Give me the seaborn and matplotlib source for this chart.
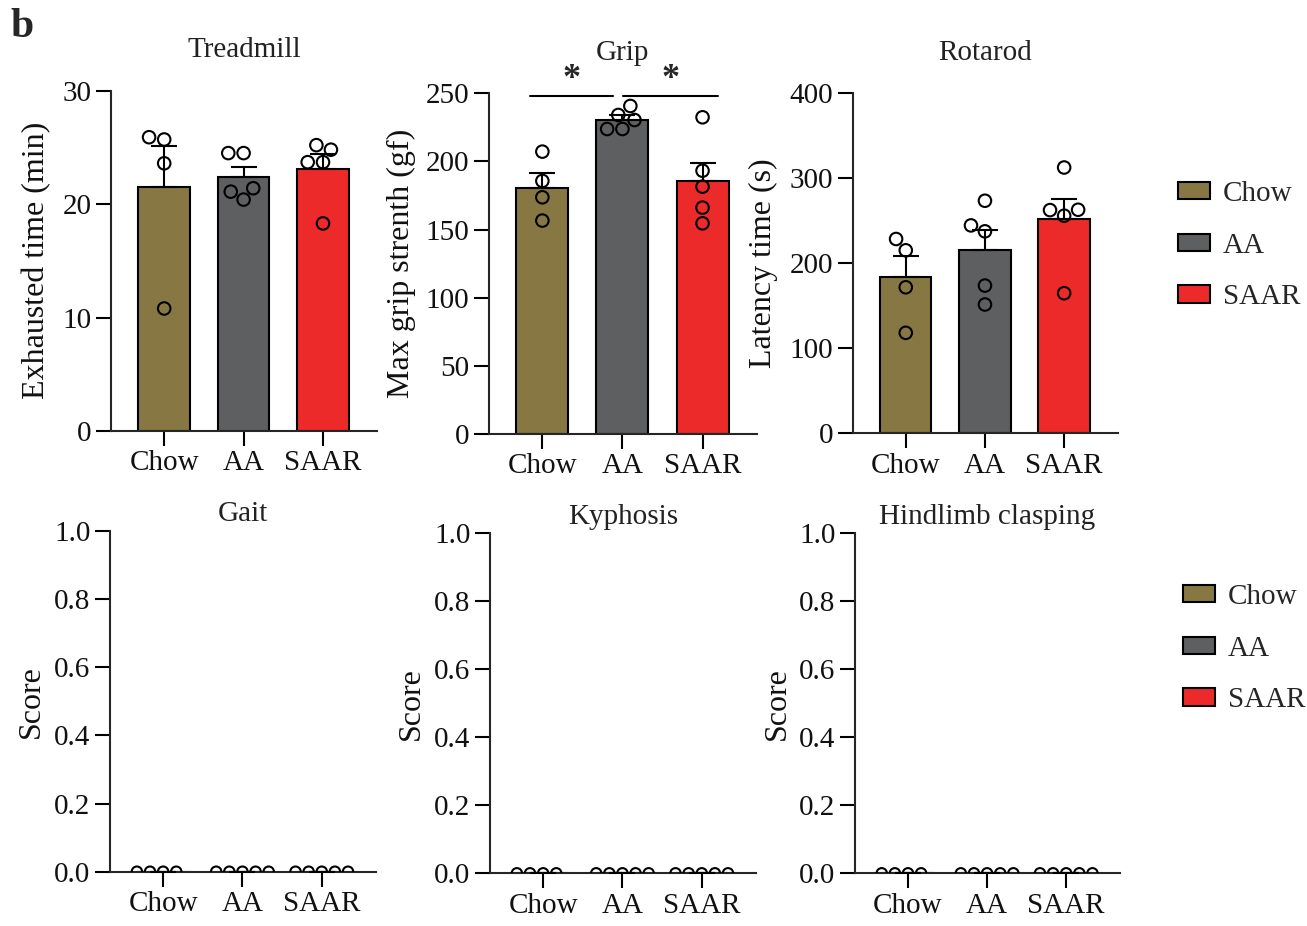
import numpy as np
import pandas as pd
import seaborn as sns
import matplotlib.pyplot as plt
from matplotlib.patches import Patch
from matplotlib.ticker import FormatStrFormatter

# groups and colours
groups = ['Chow', 'AA', 'SAAR']
colors = ['#877843', '#5e5f61', '#ed2a2a']

# individual animals
treadmill_chow = [25.7, 25.9, 23.6, 10.8]
treadmill_aa = [24.5, 24.5, 21.4, 21.1, 20.4]
treadmill_saar = [25.2, 24.8, 23.7, 23.7, 18.3]

grip_chow = [207.2, 185.7, 173.7, 156.6]
grip_aa = [240.7, 234.1, 230.4, 223.8, 223.8]
grip_saar = [232.4, 193.2, 181.5, 166.1, 154.6]

rotarod_chow = [228.6, 215.3, 171.8, 118.2]
rotarod_aa = [273.6, 244.6, 237.6, 173.8, 151.5]
rotarod_saar = [312.7, 263.0, 262.6, 256.0, 164.8]

gait_chow = [0, 0, 0, 0]
gait_aa = [0, 0, 0, 0, 0]
gait_saar = [0, 0, 0, 0, 0]

kyphosis_chow = [0, 0, 0, 0]
kyphosis_aa = [0, 0, 0, 0, 0]
kyphosis_saar = [0, 0, 0, 0, 0]

clasping_chow = [0, 0, 0, 0]
clasping_aa = [0, 0, 0, 0, 0]
clasping_saar = [0, 0, 0, 0, 0]

# significance on grip panel (group index pairs)
grip_sig_pairs = [(0, 1), (1, 2)]
grip_sig_level = 248
grip_sig_text = '*'

sns.set_style('ticks')
plt.rcParams['font.family'] = ['Liberation Serif', 'DejaVu Serif']
plt.rcParams['axes.linewidth'] = 1.5

W, H = 1307, 926
fig = plt.figure(figsize=(W / 100, H / 100), dpi=100)


def add_axes(left, top, right, bottom):
    return fig.add_axes([left / W, 1 - bottom / H, (right - left) / W, (bottom - top) / H])


def draw_panel(ax, chow, aa, saar, title, ylabel, ymax, step, fmt, title_pad, label_x, dot=9):
    vals = [chow, aa, saar]
    df = pd.DataFrame({
        'group': np.repeat(groups, [len(v) for v in vals]),
        'value': np.concatenate(vals).astype(float),
    })
    sns.barplot(data=df, x='group', y='value', hue='group', order=groups,
                hue_order=groups, palette=colors, saturation=1, errorbar=None,
                width=0.65, edgecolor='black', linewidth=1.5, legend=False, ax=ax)

    stats = df.groupby('group')['value'].agg(['mean', 'sem']).reindex(groups)
    ax.errorbar(range(len(groups)), stats['mean'],
                yerr=[np.zeros(len(groups)), stats['sem'].fillna(0)],
                fmt='none', ecolor='black', elinewidth=1.5, capsize=9.5,
                capthick=1.5, zorder=3)

    n = len(ax.collections)
    sns.swarmplot(data=df, x='group', y='value', order=groups, color='black',
                  edgecolor='black', linewidth=1.5, size=dot, ax=ax, zorder=4)
    for c in ax.collections[n:]:
        c.set_facecolor('none')
        c.set_edgecolor('black')

    ax.set_xlim(-0.67, 2.68)
    ax.set_ylim(0, ymax)
    ax.set_yticks(np.arange(0, ymax + step / 2, step))
    ax.yaxis.set_major_formatter(FormatStrFormatter(fmt))
    sns.despine(ax=ax)
    ax.tick_params(length=10.5, width=1.5, labelsize=21, color='black', labelcolor='#111')
    ax.set_xlabel('')
    ax.set_ylabel(ylabel, fontsize=23, color='#111')
    ax.yaxis.set_label_coords(label_x, 0.5)
    ax.set_title(title, fontsize=21, pad=title_pad, color='#222')


ax1 = add_axes(111, 90.7, 377, 431)
draw_panel(ax1, treadmill_chow, treadmill_aa, treadmill_saar, 'Treadmill',
           'Exhausted time (min)', 30, 10, '%d', 24, -0.225)

ax2 = add_axes(488.7, 93.3, 757, 434)
draw_panel(ax2, grip_chow, grip_aa, grip_saar, 'Grip',
           'Max grip strenth (gf)', 250, 50, '%d', 24, -0.27)

ax3 = add_axes(852.7, 93.3, 1118, 433.3)
draw_panel(ax3, rotarod_chow, rotarod_aa, rotarod_saar, 'Rotarod',
           'Latency time (s)', 400, 100, '%d', 24, -0.28)

ax4 = add_axes(110, 530.7, 375.7, 871.7)
draw_panel(ax4, gait_chow, gait_aa, gait_saar, 'Gait', 'Score', 1.0, 0.2, '%.1f', 7, -0.24, dot=7.5)

ax5 = add_axes(490, 533.3, 755.7, 873.3)
draw_panel(ax5, kyphosis_chow, kyphosis_aa, kyphosis_saar, 'Kyphosis', 'Score', 1.0, 0.2, '%.1f', 7, -0.24, dot=7.5)

ax6 = add_axes(855, 533.3, 1120, 873.3)
draw_panel(ax6, clasping_chow, clasping_aa, clasping_saar, 'Hindlimb clasping', 'Score', 1.0, 0.2, '%.1f', 7, -0.24, dot=7.5)

# significance brackets on grip
for k, (i, j) in enumerate(grip_sig_pairs):
    x0 = i - 0.16 if k == 0 else i + 0.01
    x1 = j - 0.12 if k == 0 else j + 0.19
    ax2.plot([x0, x1], [grip_sig_level, grip_sig_level], color='black', lw=1.5, clip_on=False)
    ax2.text((x0 + x1) / 2, grip_sig_level, grip_sig_text, ha='center', va='bottom',
             fontsize=26, fontweight='bold', clip_on=False)

handles = [Patch(facecolor=c, edgecolor='black', linewidth=1.5) for c in colors]
for top in [181, 584]:
    left = 1178 if top < 300 else 1183
    fig.legend(handles, groups, loc='upper left', bbox_to_anchor=(left / W, 1 - top / H),
               frameon=False, fontsize=21, handlelength=1.1, handleheight=0.55,
               handletextpad=0.45, labelspacing=0.88, borderpad=0, borderaxespad=0)

fig.text(10 / W, 1 - 8 / H, 'b', fontsize=30, fontweight='bold', va='top', ha='left')

fig.savefig('out.png', dpi=100)
